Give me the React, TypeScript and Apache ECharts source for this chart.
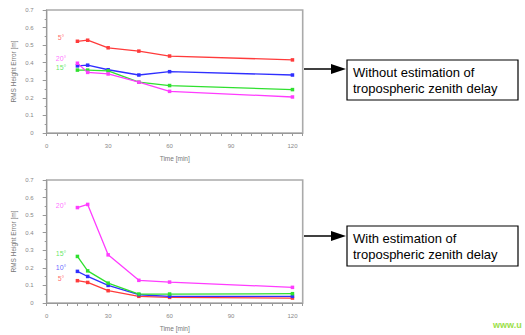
import React, { useEffect, useRef } from "react";
import * as echarts from "echarts";

const times = [15, 20, 30, 45, 60, 120];

// Without estimation of tropospheric zenith delay
const topRed = [0.522, 0.528, 0.485, 0.466, 0.438, 0.416];
const topBlue = [0.382, 0.386, 0.36, 0.33, 0.349, 0.33];
const topGreen = [0.358, 0.358, 0.354, 0.289, 0.27, 0.247];
const topMagenta = [0.397, 0.345, 0.336, 0.289, 0.237, 0.205];

// With estimation of tropospheric zenith delay
const botRed = [0.127, 0.117, 0.07, 0.038, 0.032, 0.028];
const botBlue = [0.18, 0.151, 0.1, 0.047, 0.038, 0.038];
const botGreen = [0.265, 0.183, 0.113, 0.051, 0.051, 0.053];
const botMagenta = [0.543, 0.561, 0.274, 0.129, 0.119, 0.089];

const yTicks = [0, 0.1, 0.2, 0.3, 0.4, 0.5, 0.6, 0.7];
const xLabels = [0, 30, 60, 90, 120];
const xMinor = [0, 5, 10, 15, 20, 25, 30, 35, 40, 45, 50, 55, 60, 65, 70, 75, 80, 85, 90, 95, 100, 105, 110, 115, 120, 125];

// elevation cut-off labels: [x, y, text]
const topTags: [number, number, string][] = [
  [7, 0.545, "5°"],
  [7, 0.422, "20°"],
  [7, 0.374, "15°"],
];
const botTags: [number, number, string][] = [
  [7, 0.557, "20°"],
  [7, 0.283, "15°"],
  [7, 0.2, "10°"],
  [7, 0.14, "5°"],
];

const RED = "#ff3b3b";
const BLUE = "#2f2fff";
const GREEN = "#2fe02f";
const MAG = "#ff3cff";

const tagColor: Record<string, string> = { "5°": RED, "10°": BLUE, "15°": GREEN, "20°": MAG };

export default function App() {
  const ref = useRef<HTMLDivElement>(null);
  useEffect(() => {
    if (!ref.current) return;
    const chart = echarts.init(ref.current, null, { renderer: "svg" });
    const gridBase = { left: 46.7, width: 256, height: 123, show: true, borderColor: "#aaaaaa", borderWidth: 1.6, backgroundColor: "#fff" };
    const mkX = (gi: number) => ({
      type: "value",
      gridIndex: gi,
      min: 0,
      max: 125,
      name: "Time [min]",
      nameLocation: "middle",
      nameGap: 22,
      nameTextStyle: { fontSize: 6.5, color: "#777", fontFamily: "Liberation Sans" },
      axisLine: { show: true, lineStyle: { color: "#999", width: 1 } },
      axisTick: { show: true, customValues: xMinor, length: 3, inside: false, lineStyle: { color: "#999" } },
      axisLabel: { customValues: xLabels, fontSize: 6, color: "#888", margin: 10, fontFamily: "Liberation Sans" },
      splitLine: { show: false },
    });
    const mkY = (gi: number) => ({
      type: "value",
      gridIndex: gi,
      min: 0,
      max: 0.7,
      interval: 0.1,
      name: "RMS Height Error [m]",
      nameLocation: "middle",
      nameGap: 30,
      nameTextStyle: { fontSize: 6.5, color: "#777", fontFamily: "Liberation Sans" },
      axisLine: { show: true, lineStyle: { color: "#999", width: 1 } },
      axisTick: { show: true, length: 4, lineStyle: { color: "#999" } },
      minorTick: { show: true, splitNumber: 2, length: 2, lineStyle: { color: "#999" } },
      axisLabel: {
        fontSize: 6,
        color: "#888",
        margin: 13,
        fontFamily: "Liberation Sans",
        formatter: (v: number) => (yTicks.some((t) => Math.abs(t - v) < 1e-6) ? (v === 0 ? "0" : v.toFixed(1)) : ""),
      },
      splitLine: { show: false },
    });
    const mkLine = (data: number[], color: string, gi: number) => ({
      type: "line",
      xAxisIndex: gi,
      yAxisIndex: gi,
      data: data.map((v, i) => [times[i], v]),
      symbol: "rect",
      symbolSize: 3.5,
      showSymbol: true,
      lineStyle: { color, width: 1.3 },
      itemStyle: { color },
      z: 3,
    });
    const mkTags = (tags: [number, number, string][], gi: number) => ({
      type: "scatter",
      xAxisIndex: gi,
      yAxisIndex: gi,
      symbolSize: 0,
      data: tags.map((t) => ({
        value: [t[0], t[1]],
        label: {
          show: true,
          position: "inside",
          formatter: t[2],
          fontSize: 7,
          color: tagColor[t[2]],
          opacity: 0.75,
          fontFamily: "Liberation Sans",
        },
      })),
      z: 4,
    });
    const arrowY = [69, 236];
    const boxes = [
      { y: 60, lines: ["Without estimation of", "tropospheric zenith delay"] },
      { y: 226, lines: ["With estimation of", "tropospheric zenith delay"] },
    ];
    const graphics: any[] = [];
    arrowY.forEach((y) => {
      graphics.push({ type: "line", shape: { x1: 304, y1: y, x2: 334, y2: y }, style: { stroke: "#000", lineWidth: 1.5 } });
      graphics.push({ type: "polygon", shape: { points: [[331, y - 5], [346, y], [331, y + 5]] }, style: { fill: "#000" } });
    });
    boxes.forEach((b) => {
      graphics.push({ type: "rect", shape: { x: 347, y: b.y, width: 171, height: 40 }, style: { fill: "#fff", stroke: "#000", lineWidth: 1.2 } });
      b.lines.forEach((ln, i) => {
        graphics.push({
          type: "text",
          x: 353,
          y: b.y + 12 + i * 16.5,
          style: { text: ln, fontSize: 13, fontFamily: "Liberation Sans", fill: "#000", verticalAlign: "middle", align: "left" },
        });
      });
    });
    graphics.push({
      type: "text",
      x: 493,
      y: 325,
      style: { text: "www.u", fontSize: 9, fontWeight: "bold", fontFamily: "Liberation Sans", fill: "#9be04a", verticalAlign: "middle" },
    });

    chart.setOption({
      animation: false,
      backgroundColor: "#fff",
      grid: [
        { ...gridBase, top: 10 },
        { ...gridBase, top: 180 },
      ],
      xAxis: [mkX(0), mkX(1)],
      yAxis: [mkY(0), mkY(1)],
      series: [
        mkLine(topRed, RED, 0),
        mkLine(topBlue, BLUE, 0),
        mkLine(topGreen, GREEN, 0),
        mkLine(topMagenta, MAG, 0),
        mkLine(botRed, RED, 1),
        mkLine(botBlue, BLUE, 1),
        mkLine(botGreen, GREEN, 1),
        mkLine(botMagenta, MAG, 1),
        mkTags(topTags, 0),
        mkTags(botTags, 1),
      ],
      graphic: graphics,
    });
    return () => chart.dispose();
  }, []);
  return <div ref={ref} style={{ position: "fixed", left: 0, top: 0, width: 525, height: 335 }} />;
}
